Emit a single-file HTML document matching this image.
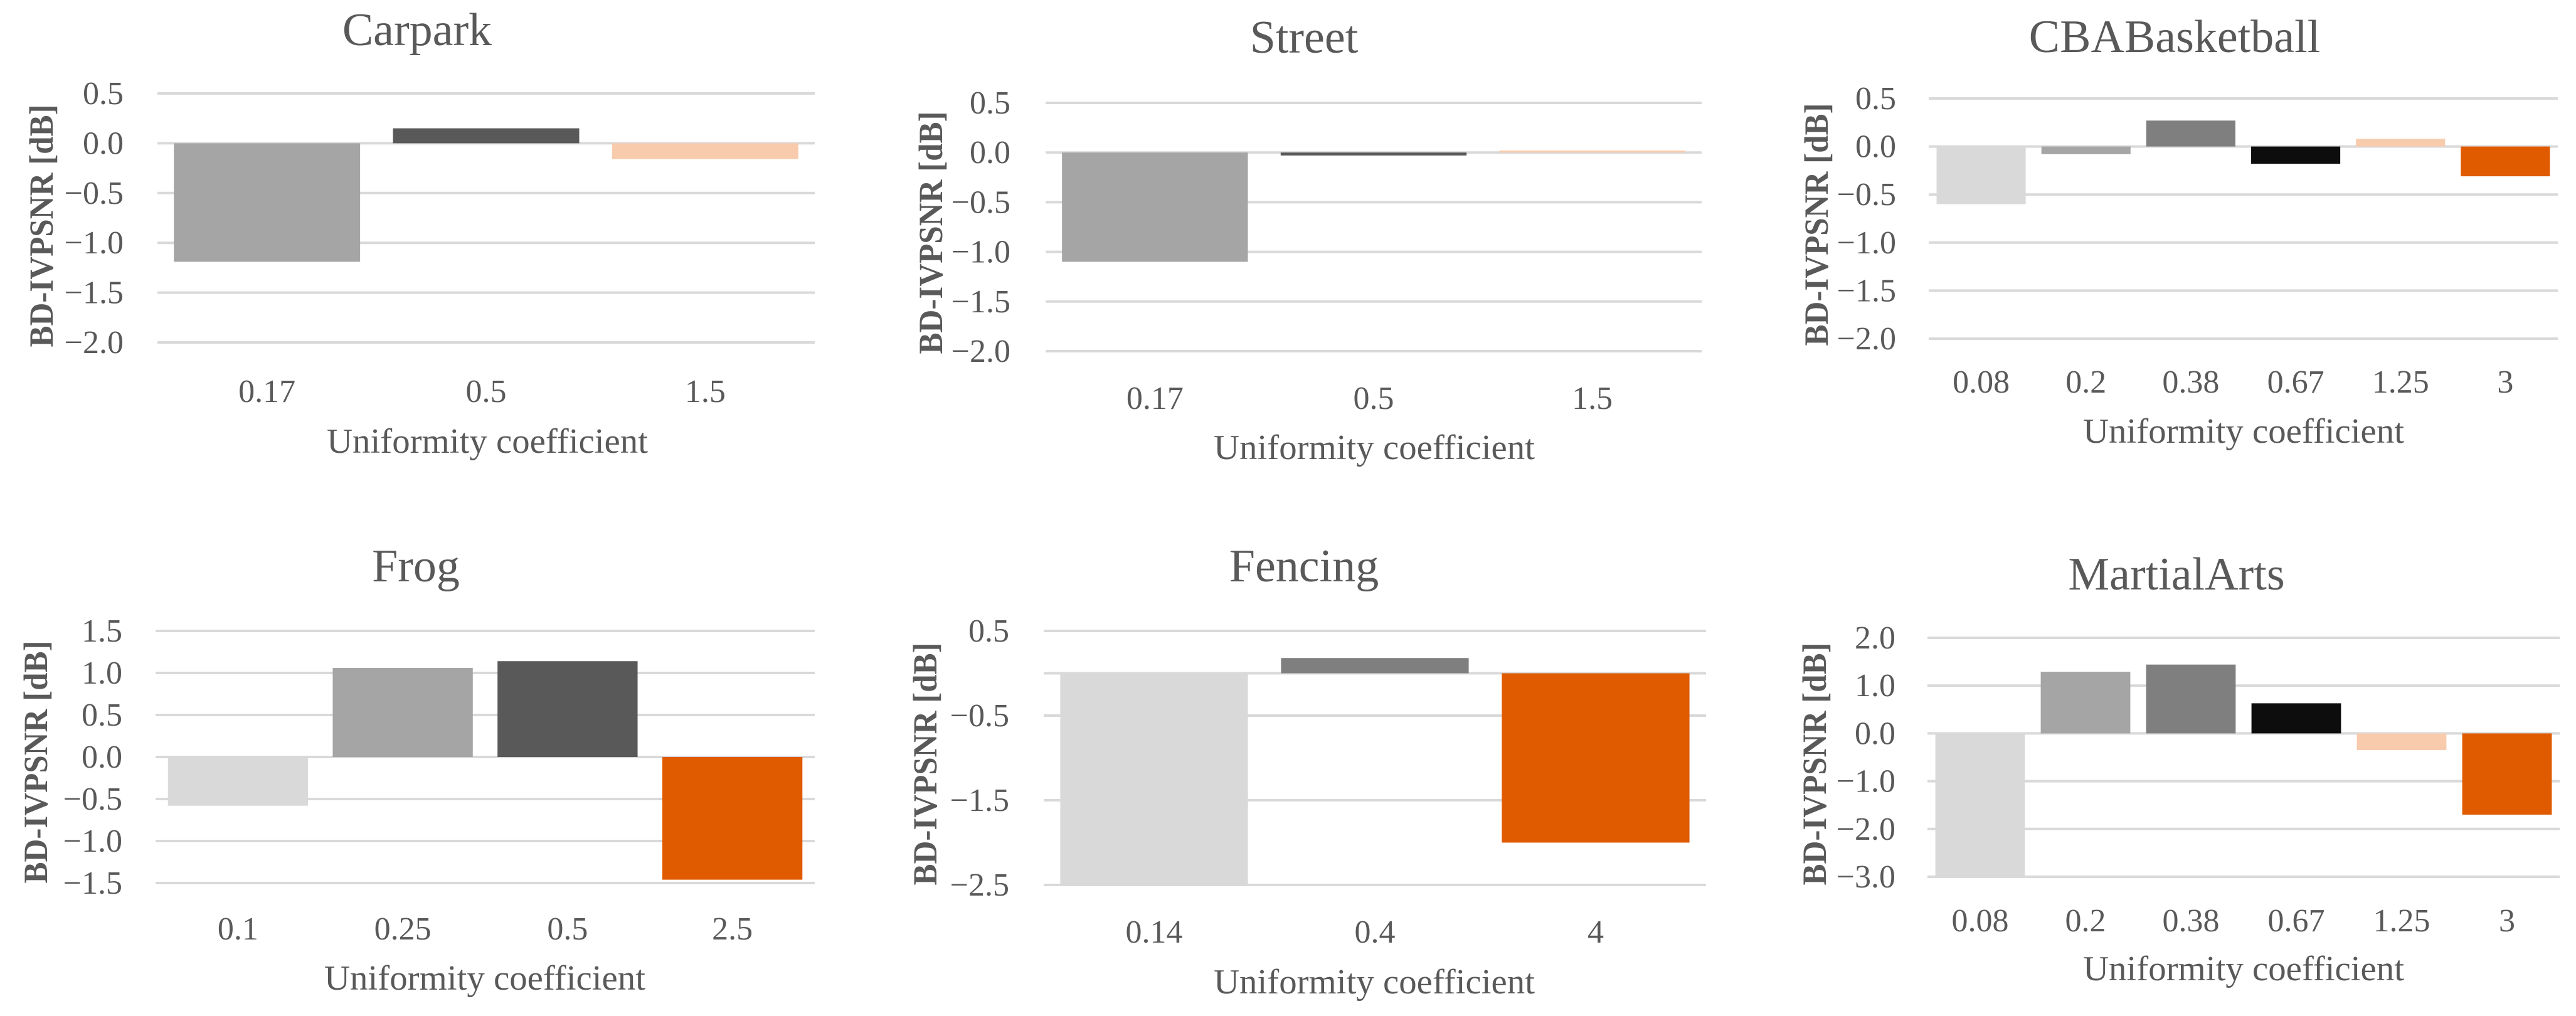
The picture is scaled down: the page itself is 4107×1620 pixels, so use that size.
<!DOCTYPE html>
<html><head><meta charset="utf-8">
<style>
html,body{margin:0;padding:0;background:#fff;}
svg{display:block;}
text{font-family:"Liberation Serif",serif;fill:#595959;}
</style></head>
<body>
<svg id="fig" width="4107" height="1620" viewBox="0 0 4107 1620" xmlns="http://www.w3.org/2000/svg"></svg>
<script>
// ---- data ----
const titles = ["Carpark","Street","CBABasketball","Frog","Fencing","MartialArts"];
const catsCarpark = ["0.17","0.5","1.5"];
const valsCarpark = [-1.19, 0.15, -0.16];
const catsStreet = ["0.17","0.5","1.5"];
const valsStreet = [-1.10, -0.03, 0.02];
const catsCBA = ["0.08","0.2","0.38","0.67","1.25","3"];
const valsCBA = [-0.60, -0.08, 0.27, -0.18, 0.08, -0.31];
const catsFrog = ["0.1","0.25","0.5","2.5"];
const valsFrog = [-0.58, 1.06, 1.14, -1.46];
const catsFencing = ["0.14","0.4","4"];
const valsFencing = [-2.5, 0.18, -2.0];
const catsMartial = ["0.08","0.2","0.38","0.67","1.25","3"];
const valsMartial = [-3.0, 1.29, 1.44, 0.63, -0.35, -1.70];
const ticksCarpark = [0.5,0.0,-0.5,-1.0,-1.5,-2.0];
const ticksStreet = [0.5,0.0,-0.5,-1.0,-1.5,-2.0];
const ticksCBA = [0.5,0.0,-0.5,-1.0,-1.5,-2.0];
const ticksFrog = [1.5,1.0,0.5,0.0,-0.5,-1.0,-1.5];
const ticksFencing = [0.5,-0.5,-1.5,-2.5];
const ticksMartial = [2.0,1.0,0.0,-1.0,-2.0,-3.0];

const cats = [catsCarpark,catsStreet,catsCBA,catsFrog,catsFencing,catsMartial];
const vals = [valsCarpark,valsStreet,valsCBA,valsFrog,valsFencing,valsMartial];
const ticks = [ticksCarpark,ticksStreet,ticksCBA,ticksFrog,ticksFencing,ticksMartial];

// ---- styles / layout ----
const colorsA = ["#a5a5a5","#595959","#f8cbad"];
const colorsB = ["#d9d9d9","#a5a5a5","#7f7f7f","#0d0d0d","#f8cbad","#e05a00"];
const colorsC = ["#d9d9d9","#a5a5a5","#595959","#e05a00"];
const colorsD = ["#d9d9d9","#7f7f7f","#e05a00"];
const palettes = [colorsA,colorsA,colorsB,colorsC,colorsD,colorsB];
const layout = [
 {L:251,R:1299,T:149,B:546,tr:197,tx:665,ty:72,xl:641,xtx:777,xty:722,ytx:66,yty:360},
 {L:1667,R:2713,T:164,B:560,tr:1611,tx:2079,ty:84,xl:652,xtx:2191,xty:732,ytx:1484,yty:371},
 {L:3075,R:4078,T:157,B:540,tr:3023,tx:3467,ty:83,xl:626,xtx:3577,xty:706,ytx:2896,yty:358},
 {L:248,R:1299,T:1006,B:1408,tr:195,tx:663,ty:927,xl:1498,xtx:773,xty:1578,ytx:57,yty:1215},
 {L:1664,R:2720,T:1006,B:1411,tr:1609,tx:2079,ty:927,xl:1503,xtx:2191,xty:1584,ytx:1475,yty:1218},
 {L:3073,R:4081,T:1017,B:1398,tr:3022,tx:3470,ty:940,xl:1485,xtx:3577,xty:1563,ytx:2893,yty:1218}
];
const NS = "http://www.w3.org/2000/svg";
const svg = document.getElementById("fig");
function mk(tag, attrs, parent){
  const e = document.createElementNS(NS, tag);
  for (const k in attrs) e.setAttribute(k, attrs[k]);
  (parent||svg).appendChild(e);
  return e;
}
function fmt(v){ return (v<0?"\u2212":"") + Math.abs(v).toFixed(1); }

for (let p=0; p<6; p++){
  const lay = layout[p], tk = ticks[p], cs = cats[p], vs = vals[p], pal = palettes[p];
  const g = mk("g", {});
  
  
  const tMax = tk[0], tMin = tk[tk.length-1];
  const yScale = v => lay.T + (tMax - v) / (tMax - tMin) * (lay.B - lay.T);
  const cw = (lay.R - lay.L) / cs.length;
  const xScale = i => lay.L + cw * (i + 0.5);

  const lines = tk.slice();
  if (lines.indexOf(0) < 0) lines.push(0);
  lines.forEach(v => {
    const ln = mk("line", {x1:lay.L, x2:lay.R, y1:yScale(v), y2:yScale(v), stroke:"#d9d9d9", "stroke-width":4}, g);
    
    
  });
  tk.forEach(v => {
    const t = mk("text", {x:lay.tr, y:yScale(v)+17, "font-size":52, "text-anchor":"end"}, g);
    t.textContent = fmt(v);
    
    
  });
  const bw = cw * 0.85;
  const y0 = yScale(0);
  vs.forEach((v, i) => {
    const yv = yScale(v);
    const r = mk("rect", {x:xScale(i)-bw/2, y:Math.min(yv,y0), width:bw, height:Math.max(1,Math.abs(yv-y0)), fill:pal[i]}, g);
    
    
  });
  cs.forEach((c, i) => {
    const t = mk("text", {x:xScale(i), y:lay.xl, "font-size":52, "text-anchor":"middle"}, g);
    t.textContent = c;
    
    
  });
  const tt = mk("text", {x:lay.tx, y:lay.ty, "font-size":74, "text-anchor":"middle"}, g);
  tt.textContent = titles[p];
  
  
  const xt = mk("text", {x:lay.xtx, y:lay.xty, "font-size":56, "text-anchor":"middle", textLength:512, lengthAdjust:"spacingAndGlyphs"}, g);
  xt.textContent = "Uniformity coefficient";
  
  
  const yt = mk("text", {x:0, y:0, "font-size":54, "font-weight":"bold", "text-anchor":"middle", textLength:387, lengthAdjust:"spacingAndGlyphs", transform:"translate("+(lay.ytx+18)+","+lay.yty+") rotate(-90)"}, g);
  yt.textContent = "BD-IVPSNR [dB]";
  
  
}
</script>
</body></html>
